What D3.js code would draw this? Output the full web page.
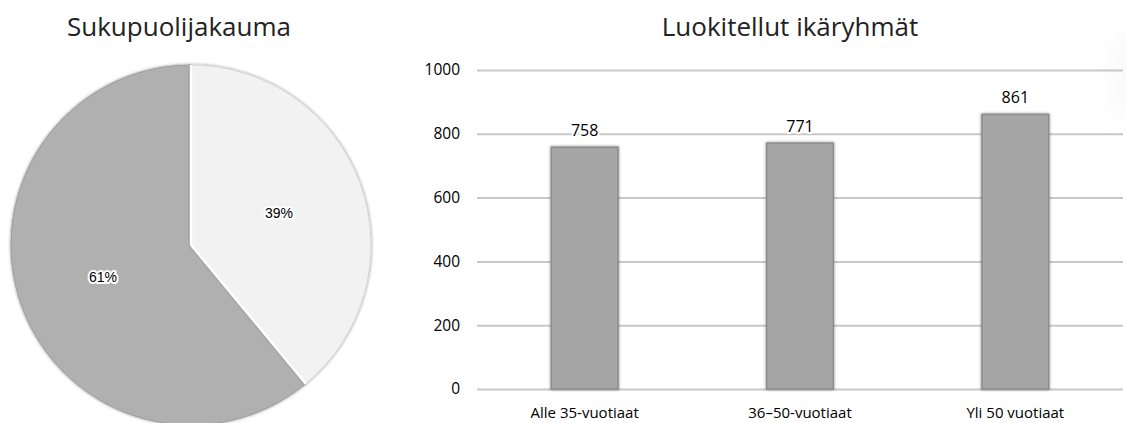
<!DOCTYPE html>
<html>
<head>
<meta charset="utf-8">
<script src="https://cdn.jsdelivr.net/npm/d3@7"></script>
<style>
  html, body { margin: 0; padding: 0; background: #fff; }
  svg { display: block; }
</style>
</head>
<body>
<svg id="chart" width="1126" height="423"></svg>
<script>
// Gender split (pie)
const genderLabels = ["Nainen", "Mies"];
const genderShares = [39, 61];

// Age groups (bars)
const ageGroups = ["Alle 35-vuotiaat", "36–50-vuotiaat", "Yli 50 vuotiaat"];
const ageCounts = [758, 771, 861];
const yTicks = [0, 200, 400, 600, 800, 1000];

const svg = d3.select("#chart");
const titleFont = "'Open Sans', 'Noto Sans', sans-serif";
const axisFont = "'Open Sans', 'Noto Sans', sans-serif";
const pctFont = "'Liberation Sans', Arial, sans-serif";

const defs = svg.append("defs");
const shadow = defs.append("filter").attr("id", "soft").attr("x", "-10%").attr("y", "-10%").attr("width", "120%").attr("height", "120%");
shadow.append("feDropShadow").attr("dx", 0).attr("dy", 0).attr("stdDeviation", 1.4).attr("flood-color", "#000").attr("flood-opacity", 0.45);

const haze = defs.append("filter").attr("id", "haze").attr("x", "-100%").attr("y", "-100%").attr("width", "300%").attr("height", "300%");
haze.append("feGaussianBlur").attr("stdDeviation", 12);

// faint smudge at the right edge
svg.append("ellipse").attr("cx", 1132).attr("cy", 75).attr("rx", 20).attr("ry", 45)
  .attr("fill", "#ececec").attr("opacity", 0.35).attr("filter", "url(#haze)");

// ---------- Pie ----------
const pieCx = 191, pieCy = 245, pieR = 180;
svg.append("text")
  .attr("x", 179).attr("y", 36)
  .attr("text-anchor", "middle")
  .attr("font-family", titleFont).attr("font-size", 26).attr("fill", "#222")
  .text("Sukupuolijakauma");

const pieGen = d3.pie().sort(null).value(d => d);
const arcGen = d3.arc().innerRadius(0).outerRadius(pieR);
const labelArc = d3.arc().innerRadius(pieR * 0.52).outerRadius(pieR * 0.52);
const pieColors = ["#f2f2f2", "#b0b0b0"];

const pg = svg.append("g").attr("transform", `translate(${pieCx},${pieCy})`);
const arcs = pieGen(genderShares);
// larger slice first so the lighter slice's shadow falls across it
const drawOrder = arcs.slice().sort((a, b) => b.value - a.value);
pg.selectAll("path.slice").data(drawOrder).join("path")
  .attr("class", "slice")
  .attr("d", arcGen)
  .attr("fill", d => pieColors[d.index])
  .attr("stroke", d => d.index === 1 ? "#9c9c9c" : "#d6d6d6")
  .attr("stroke-width", 1)
  .attr("filter", "url(#soft)");

// white separators between slices
pg.selectAll("line.sep").data(arcs).join("line")
  .attr("class", "sep")
  .attr("x1", 0).attr("y1", 0)
  .attr("x2", d => d3.pointRadial(d.startAngle, pieR)[0])
  .attr("y2", d => d3.pointRadial(d.startAngle, pieR)[1])
  .attr("stroke", "#fff").attr("stroke-width", 2.5);

pg.selectAll("text.pct").data(arcs).join("text")
  .attr("class", "pct")
  .attr("transform", d => `translate(${labelArc.centroid(d)})`)
  .attr("text-anchor", "middle").attr("dominant-baseline", "central")
  .attr("font-family", pctFont).attr("font-size", 14).attr("fill", "#000")
  .attr("stroke", "#fff").attr("stroke-width", 4).attr("stroke-linejoin", "round")
  .attr("paint-order", "stroke")
  .text(d => d.data + "%");

// ---------- Bars ----------
const plotLeft = 477, plotRight = 1123, plotTop = 70, plotBottom = 389;
svg.append("text")
  .attr("x", 790).attr("y", 36)
  .attr("text-anchor", "middle")
  .attr("font-family", titleFont).attr("font-size", 26).attr("fill", "#222")
  .text("Luokitellut ikäryhmät");

const x = d3.scaleBand().domain(ageGroups).range([plotLeft, plotRight]).paddingInner(0.69).paddingOuter(0.345);
const y = d3.scaleLinear().domain([0, 1000]).range([plotBottom, plotTop]);

const yAxis = d3.axisLeft(y).tickValues(yTicks).tickFormat(d3.format("d"))
  .tickSize(-(plotRight - plotLeft)).tickPadding(17);
const gy = svg.append("g").attr("transform", `translate(${plotLeft},0)`).call(yAxis);
gy.select(".domain").remove();
gy.selectAll(".tick line").attr("stroke", "#c8c8c8").attr("stroke-width", 2);
gy.selectAll(".tick text").attr("font-family", axisFont).attr("font-size", 15.5).attr("fill", "#000");

const xAxis = d3.axisBottom(x).tickSize(0).tickPadding(18);
const gx = svg.append("g").attr("transform", `translate(0,${plotBottom})`).call(xAxis);
gx.select(".domain").remove();
gx.selectAll(".tick text").attr("font-family", axisFont).attr("font-size", 15).attr("fill", "#000");

const data = ageGroups.map((g, i) => ({ g, v: ageCounts[i] }));
svg.selectAll("rect.bar").data(data).join("rect")
  .attr("class", "bar")
  .attr("x", d => x(d.g)).attr("width", x.bandwidth())
  .attr("y", d => y(d.v)).attr("height", d => y(0) - y(d.v))
  .attr("fill", "#a6a6a6").attr("stroke", "#8c8c8c").attr("stroke-width", 1.5)
  .attr("filter", "url(#soft)");

svg.selectAll("text.val").data(data).join("text")
  .attr("class", "val")
  .attr("x", d => x(d.g) + x.bandwidth() / 2).attr("y", d => y(d.v) - 17)
  .attr("text-anchor", "middle").attr("dominant-baseline", "central")
  .attr("font-family", axisFont).attr("font-size", 16).attr("fill", "#000")
  .attr("stroke", "#fff").attr("stroke-width", 4).attr("stroke-linejoin", "round")
  .attr("paint-order", "stroke")
  .text(d => d.v);
</script>
</body>
</html>
